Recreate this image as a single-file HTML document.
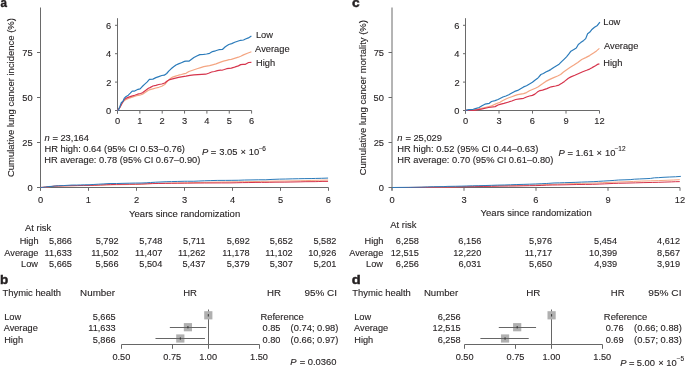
<!DOCTYPE html>
<html><head><meta charset="utf-8"><style>
html,body{margin:0;padding:0;background:#fff;}
body{width:685px;height:366px;overflow:hidden;}
svg{display:block;font-family:"Liberation Sans",sans-serif;will-change:transform;}
text{stroke:#231f20;stroke-width:0.12px;paint-order:stroke;}
</style></head><body>
<svg width="685" height="366" viewBox="0 0 685 366">
<rect width="685" height="366" fill="#fff"/>
<text x="0.55" y="7.20" font-size="12.00" textLength="6.45" lengthAdjust="spacingAndGlyphs" font-weight="bold" style="stroke-width:0.4px" fill="#231f20" >a</text>
<line x1="40.5" y1="7.5" x2="40.5" y2="190.5" stroke="#6a6a6a" stroke-width="1"/>
<line x1="40.5" y1="187.5" x2="328.5" y2="187.5" stroke="#6a6a6a" stroke-width="1"/>
<line x1="37" y1="187.5" x2="40.5" y2="187.5" stroke="#6a6a6a" stroke-width="1"/>
<text x="27.46" y="191.00" font-size="9.30" fill="#231f20" >0</text>
<line x1="37" y1="142.5" x2="40.5" y2="142.5" stroke="#6a6a6a" stroke-width="1"/>
<text x="22.35" y="146.00" font-size="9.30" fill="#231f20" >25</text>
<line x1="37" y1="97.5" x2="40.5" y2="97.5" stroke="#6a6a6a" stroke-width="1"/>
<text x="22.30" y="101.00" font-size="9.30" fill="#231f20" >50</text>
<line x1="37" y1="52.5" x2="40.5" y2="52.5" stroke="#6a6a6a" stroke-width="1"/>
<text x="22.35" y="56.00" font-size="9.30" fill="#231f20" >75</text>
<line x1="40.5" y1="187.5" x2="40.5" y2="190.8" stroke="#6a6a6a" stroke-width="1"/>
<text x="37.90" y="203.00" font-size="9.30" fill="#231f20" >0</text>
<line x1="88.5" y1="187.5" x2="88.5" y2="190.8" stroke="#6a6a6a" stroke-width="1"/>
<text x="85.78" y="203.00" font-size="9.30" fill="#231f20" >1</text>
<line x1="136.5" y1="187.5" x2="136.5" y2="190.8" stroke="#6a6a6a" stroke-width="1"/>
<text x="133.92" y="203.00" font-size="9.30" fill="#231f20" >2</text>
<line x1="184.5" y1="187.5" x2="184.5" y2="190.8" stroke="#6a6a6a" stroke-width="1"/>
<text x="181.92" y="203.00" font-size="9.30" fill="#231f20" >3</text>
<line x1="232.5" y1="187.5" x2="232.5" y2="190.8" stroke="#6a6a6a" stroke-width="1"/>
<text x="229.97" y="203.00" font-size="9.30" fill="#231f20" >4</text>
<line x1="280.5" y1="187.5" x2="280.5" y2="190.8" stroke="#6a6a6a" stroke-width="1"/>
<text x="277.92" y="203.00" font-size="9.30" fill="#231f20" >5</text>
<line x1="328.5" y1="187.5" x2="328.5" y2="190.8" stroke="#6a6a6a" stroke-width="1"/>
<text x="325.87" y="203.00" font-size="9.30" fill="#231f20" >6</text>
<text x="129.11" y="216.60" font-size="9.51" fill="#231f20" >Years since randomization</text>
<line x1="117.5" y1="18.2" x2="117.5" y2="113.6" stroke="#6a6a6a" stroke-width="1"/>
<line x1="117.5" y1="110.5" x2="251.6" y2="110.5" stroke="#6a6a6a" stroke-width="1"/>
<line x1="115" y1="110.5" x2="117.5" y2="110.5" stroke="#6a6a6a" stroke-width="1"/>
<text x="106.06" y="114.00" font-size="9.30" fill="#231f20" >0</text>
<line x1="115" y1="82.1" x2="117.5" y2="82.1" stroke="#6a6a6a" stroke-width="1"/>
<text x="106.20" y="85.60" font-size="9.30" fill="#231f20" >2</text>
<line x1="115" y1="53.7" x2="117.5" y2="53.7" stroke="#6a6a6a" stroke-width="1"/>
<text x="106.02" y="57.20" font-size="9.30" fill="#231f20" >4</text>
<line x1="115" y1="25.30000000000001" x2="117.5" y2="25.30000000000001" stroke="#6a6a6a" stroke-width="1"/>
<text x="106.11" y="28.80" font-size="9.30" fill="#231f20" >6</text>
<line x1="117.5" y1="110.5" x2="117.5" y2="113.6" stroke="#6a6a6a" stroke-width="1"/>
<text x="114.90" y="124.00" font-size="9.30" fill="#231f20" >0</text>
<line x1="139.85" y1="110.5" x2="139.85" y2="113.6" stroke="#6a6a6a" stroke-width="1"/>
<text x="137.13" y="124.00" font-size="9.30" fill="#231f20" >1</text>
<line x1="162.2" y1="110.5" x2="162.2" y2="113.6" stroke="#6a6a6a" stroke-width="1"/>
<text x="159.62" y="124.00" font-size="9.30" fill="#231f20" >2</text>
<line x1="184.55" y1="110.5" x2="184.55" y2="113.6" stroke="#6a6a6a" stroke-width="1"/>
<text x="181.97" y="124.00" font-size="9.30" fill="#231f20" >3</text>
<line x1="206.9" y1="110.5" x2="206.9" y2="113.6" stroke="#6a6a6a" stroke-width="1"/>
<text x="204.37" y="124.00" font-size="9.30" fill="#231f20" >4</text>
<line x1="229.25" y1="110.5" x2="229.25" y2="113.6" stroke="#6a6a6a" stroke-width="1"/>
<text x="226.67" y="124.00" font-size="9.30" fill="#231f20" >5</text>
<line x1="251.60000000000002" y1="110.5" x2="251.60000000000002" y2="113.6" stroke="#6a6a6a" stroke-width="1"/>
<text x="248.97" y="124.00" font-size="9.30" fill="#231f20" >6</text>
<polyline points="117.50,110.40 119.00,108.50 120.90,105.50 122.90,102.00 124.80,100.10 127.80,98.80 130.70,97.60 133.70,96.60 136.60,95.70 139.60,95.20 142.50,94.20 145.50,92.20 148.40,90.30 150.00,89.60 152.90,88.80 155.90,88.00 158.80,87.30 161.80,86.30 164.70,84.50 167.20,81.70 169.70,79.10 172.60,77.10 175.60,76.10 178.50,75.20 181.40,74.50 184.40,73.70 186.00,73.30 188.90,71.50 191.90,70.50 194.80,69.50 197.80,68.50 200.70,67.60 203.70,66.60 206.60,66.10 209.60,65.60 212.50,64.80 216.00,63.90 219.90,62.40 222.00,61.60 224.30,60.90 226.70,60.30 229.00,59.70 231.30,59.30 233.70,58.60 236.00,57.90 238.40,57.20 240.70,56.20 243.50,54.90 247.40,53.30 251.40,51.80" fill="none" stroke="#f4a582" stroke-width="1.2" stroke-linejoin="round" stroke-linecap="butt"/>
<polyline points="40.50,187.49 43.72,187.25 47.80,186.87 52.10,186.42 56.18,186.18 62.62,186.02 68.85,185.86 75.29,185.74 81.52,185.62 87.96,185.56 94.19,185.43 100.63,185.18 106.86,184.94 110.30,184.85 116.53,184.75 122.97,184.65 129.20,184.56 135.64,184.43 141.87,184.20 147.24,183.85 152.61,183.52 158.84,183.27 165.28,183.14 171.51,183.03 177.73,182.94 184.18,182.84 187.61,182.78 193.84,182.56 200.29,182.43 206.51,182.30 212.96,182.18 219.18,182.06 225.63,181.94 231.86,181.87 238.30,181.81 244.53,181.71 252.04,181.59 260.42,181.40 264.93,181.30 269.87,181.21 275.02,181.14 279.96,181.06 284.90,181.01 290.06,180.92 295.00,180.83 300.15,180.74 305.09,180.62 311.10,180.45 319.48,180.25 328.07,180.06" fill="none" stroke="#f4a582" stroke-width="1.0" stroke-linejoin="round" stroke-linecap="butt"/>
<polyline points="117.50,110.40 118.80,108.80 119.90,107.40 121.90,103.50 123.90,100.10 125.80,98.40 128.80,97.10 131.70,96.10 134.70,95.20 137.60,94.20 140.60,93.50 142.50,92.70 145.50,90.50 148.40,88.30 150.00,87.60 152.90,86.00 155.90,85.30 158.80,84.50 161.80,84.00 164.70,83.00 167.20,81.10 169.70,79.60 172.60,78.80 175.60,78.10 178.50,77.40 181.40,76.80 184.40,76.30 186.00,76.20 189.90,75.40 193.90,74.90 197.80,74.60 201.70,74.40 205.70,74.20 208.60,73.30 211.60,72.00 214.50,71.50 217.40,70.60 220.40,70.10 222.00,70.25 224.30,69.55 226.70,68.70 229.00,68.40 231.30,68.10 233.70,67.45 236.00,66.65 238.40,65.90 240.70,64.65 243.00,64.40 245.40,64.30 246.80,63.50 248.60,62.50 251.40,62.30" fill="none" stroke="#d6344c" stroke-width="1.2" stroke-linejoin="round" stroke-linecap="butt"/>
<polyline points="40.50,187.49 43.29,187.28 45.65,187.11 49.95,186.61 54.24,186.18 58.33,185.97 64.77,185.80 71.00,185.67 77.44,185.56 83.67,185.43 90.11,185.35 94.19,185.24 100.63,184.96 106.86,184.69 110.30,184.60 116.53,184.39 122.97,184.31 129.20,184.20 135.64,184.14 141.87,184.01 147.24,183.77 152.61,183.58 158.84,183.48 165.28,183.39 171.51,183.30 177.73,183.23 184.18,183.16 187.61,183.15 195.99,183.05 204.58,182.99 212.96,182.95 221.33,182.92 229.92,182.90 236.15,182.78 242.59,182.62 248.82,182.56 255.05,182.44 261.49,182.38 264.93,182.40 269.87,182.31 275.02,182.20 279.96,182.16 284.90,182.13 290.06,182.04 295.00,181.94 300.15,181.85 305.09,181.69 310.03,181.66 315.18,181.64 318.19,181.54 322.06,181.42 328.07,181.39" fill="none" stroke="#d6344c" stroke-width="1.0" stroke-linejoin="round" stroke-linecap="butt"/>
<polyline points="117.50,110.40 118.50,109.90 119.90,106.50 121.40,102.50 122.90,101.40 124.40,98.10 125.80,96.80 128.30,95.20 130.30,93.20 132.20,91.20 134.20,91.20 136.10,90.30 138.10,89.30 140.10,88.80 142.00,86.80 144.50,84.40 147.00,82.10 149.40,79.40 152.90,79.10 155.90,77.60 158.80,76.60 161.80,75.50 164.30,75.20 166.70,73.50 168.70,71.20 171.10,68.80 173.60,66.80 176.00,65.00 178.50,63.90 181.40,62.70 184.40,61.40 186.00,61.20 188.90,61.20 190.90,59.70 193.90,57.50 196.80,56.00 199.80,54.60 203.70,54.30 206.60,54.00 209.60,53.30 212.50,51.60 215.50,50.80 218.90,49.70 222.40,49.50 225.30,46.70 228.80,44.50 231.70,43.60 234.70,42.30 237.60,41.30 240.60,40.30 243.50,40.00 245.50,39.00 248.40,37.90 251.40,36.10" fill="none" stroke="#2b7bba" stroke-width="1.2" stroke-linejoin="round" stroke-linecap="butt"/>
<polyline points="40.50,187.49 42.65,187.42 45.65,186.99 48.88,186.49 52.10,186.35 55.32,185.93 58.33,185.76 63.69,185.56 67.99,185.31 72.07,185.05 76.37,185.05 80.45,184.94 84.74,184.81 89.04,184.75 93.12,184.50 98.49,184.19 103.86,183.90 109.01,183.56 116.53,183.52 122.97,183.33 129.20,183.20 135.64,183.06 141.01,183.03 146.16,182.81 150.46,182.52 155.61,182.21 160.98,181.96 166.14,181.73 171.51,181.59 177.73,181.44 184.18,181.28 187.61,181.25 193.84,181.25 198.14,181.06 204.58,180.78 210.81,180.59 217.25,180.41 225.63,180.38 231.86,180.34 238.30,180.25 244.53,180.03 250.97,179.93 258.27,179.79 265.79,179.77 272.02,179.41 279.53,179.13 285.76,179.02 292.20,178.85 298.43,178.73 304.88,178.60 311.10,178.56 315.40,178.44 321.63,178.30 328.07,178.07" fill="none" stroke="#2b7bba" stroke-width="1.0" stroke-linejoin="round" stroke-linecap="butt"/>
<text x="255.96" y="37.90" font-size="9.30" fill="#231f20" >Low</text>
<text x="255.10" y="52.00" font-size="9.30" fill="#231f20" >Average</text>
<text x="255.96" y="65.80" font-size="9.30" fill="#231f20" >High</text>
<text x="44.46" y="140.80" font-size="9.40" font-style="italic" fill="#231f20" >n</text>
<text x="52.50" y="140.80" font-size="9.40" fill="#231f20" >=</text>
<text x="60.43" y="140.80" font-size="9.40" textLength="28.53" lengthAdjust="spacingAndGlyphs" fill="#231f20" >23,164</text>
<text x="44.45" y="152.40" font-size="9.34" fill="#231f20" >HR high: 0.64 (95% CI 0.53–0.76)</text>
<text x="44.26" y="163.00" font-size="9.31" fill="#231f20" >HR average: 0.78 (95% CI 0.67–0.90)</text>
<text x="201.92" y="154.70" font-size="9.40" font-style="italic" fill="#231f20" >P</text>
<text x="210.75" y="154.70" font-size="9.40" fill="#231f20" >=</text>
<text x="219.21" y="154.70" font-size="9.40" fill="#231f20" >3.05</text>
<text x="240.55" y="154.70" font-size="9.40" fill="#231f20" >×</text>
<text x="248.84" y="154.70" font-size="9.40" fill="#231f20" >10</text>
<text x="258.90" y="150.80" font-size="6.50" fill="#231f20" >−</text>
<text x="262.21" y="150.80" font-size="6.50" fill="#231f20" >6</text>
<text x="25.10" y="230.70" font-size="9.40" fill="#231f20" >At risk</text>
<text x="19.69" y="244.20" font-size="9.20" fill="#231f20" >High</text>
<text x="4.33" y="255.50" font-size="9.20" fill="#231f20" >Average</text>
<text x="21.12" y="267.20" font-size="9.20" fill="#231f20" >Low</text>
<text x="48.97" y="244.20" font-size="9.20" fill="#231f20" >5,866</text>
<text x="95.66" y="244.20" font-size="9.20" fill="#231f20" >5,792</text>
<text x="139.37" y="244.20" font-size="9.20" fill="#231f20" >5,748</text>
<text x="183.10" y="244.20" font-size="9.20" fill="#231f20" >5,711</text>
<text x="226.76" y="244.20" font-size="9.20" fill="#231f20" >5,692</text>
<text x="269.76" y="244.20" font-size="9.20" fill="#231f20" >5,652</text>
<text x="313.46" y="244.20" font-size="9.20" fill="#231f20" >5,582</text>
<text x="44.51" y="255.50" font-size="9.20" fill="#231f20" >11,633</text>
<text x="91.20" y="255.50" font-size="9.20" fill="#231f20" >11,502</text>
<text x="135.00" y="255.50" font-size="9.20" fill="#231f20" >11,407</text>
<text x="178.00" y="255.50" font-size="9.20" fill="#231f20" >11,262</text>
<text x="222.21" y="255.50" font-size="9.20" fill="#231f20" >11,178</text>
<text x="265.30" y="255.50" font-size="9.20" fill="#231f20" >11,102</text>
<text x="308.22" y="255.50" font-size="9.20" fill="#231f20" >10,926</text>
<text x="48.97" y="267.20" font-size="9.20" fill="#231f20" >5,665</text>
<text x="95.57" y="267.20" font-size="9.20" fill="#231f20" >5,566</text>
<text x="139.28" y="267.20" font-size="9.20" fill="#231f20" >5,504</text>
<text x="182.46" y="267.20" font-size="9.20" fill="#231f20" >5,437</text>
<text x="226.71" y="267.20" font-size="9.20" fill="#231f20" >5,379</text>
<text x="269.76" y="267.20" font-size="9.20" fill="#231f20" >5,307</text>
<text x="313.41" y="267.20" font-size="9.20" fill="#231f20" >5,201</text>
<text x="352.05" y="7.20" font-size="12.00" textLength="7.68" lengthAdjust="spacingAndGlyphs" font-weight="bold" style="stroke-width:0.4px" fill="#231f20" >c</text>
<line x1="392" y1="7.5" x2="392" y2="190.5" stroke="#6a6a6a" stroke-width="1"/>
<line x1="392" y1="187.5" x2="680" y2="187.5" stroke="#6a6a6a" stroke-width="1"/>
<line x1="388.5" y1="187.5" x2="392" y2="187.5" stroke="#6a6a6a" stroke-width="1"/>
<text x="378.76" y="191.00" font-size="9.30" fill="#231f20" >0</text>
<line x1="388.5" y1="142.5" x2="392" y2="142.5" stroke="#6a6a6a" stroke-width="1"/>
<text x="373.65" y="146.00" font-size="9.30" fill="#231f20" >25</text>
<line x1="388.5" y1="97.5" x2="392" y2="97.5" stroke="#6a6a6a" stroke-width="1"/>
<text x="373.60" y="101.00" font-size="9.30" fill="#231f20" >50</text>
<line x1="388.5" y1="52.5" x2="392" y2="52.5" stroke="#6a6a6a" stroke-width="1"/>
<text x="373.65" y="56.00" font-size="9.30" fill="#231f20" >75</text>
<line x1="392" y1="187.5" x2="392" y2="190.8" stroke="#6a6a6a" stroke-width="1"/>
<text x="389.40" y="203.00" font-size="9.30" fill="#231f20" >0</text>
<line x1="464" y1="187.5" x2="464" y2="190.8" stroke="#6a6a6a" stroke-width="1"/>
<text x="461.42" y="203.00" font-size="9.30" fill="#231f20" >3</text>
<line x1="536" y1="187.5" x2="536" y2="190.8" stroke="#6a6a6a" stroke-width="1"/>
<text x="533.37" y="203.00" font-size="9.30" fill="#231f20" >6</text>
<line x1="608" y1="187.5" x2="608" y2="190.8" stroke="#6a6a6a" stroke-width="1"/>
<text x="605.42" y="203.00" font-size="9.30" fill="#231f20" >9</text>
<line x1="680" y1="187.5" x2="680" y2="190.8" stroke="#6a6a6a" stroke-width="1"/>
<text x="674.72" y="203.00" font-size="9.30" fill="#231f20" >12</text>
<text x="480.61" y="216.30" font-size="9.51" fill="#231f20" >Years since randomization</text>
<line x1="465.5" y1="18.2" x2="465.5" y2="113.6" stroke="#6a6a6a" stroke-width="1"/>
<line x1="465.5" y1="110.5" x2="599.5" y2="110.5" stroke="#6a6a6a" stroke-width="1"/>
<line x1="463" y1="110.5" x2="465.5" y2="110.5" stroke="#6a6a6a" stroke-width="1"/>
<text x="454.26" y="114.00" font-size="9.30" fill="#231f20" >0</text>
<line x1="463" y1="82.1" x2="465.5" y2="82.1" stroke="#6a6a6a" stroke-width="1"/>
<text x="454.40" y="85.60" font-size="9.30" fill="#231f20" >2</text>
<line x1="463" y1="53.7" x2="465.5" y2="53.7" stroke="#6a6a6a" stroke-width="1"/>
<text x="454.22" y="57.20" font-size="9.30" fill="#231f20" >4</text>
<line x1="463" y1="25.30000000000001" x2="465.5" y2="25.30000000000001" stroke="#6a6a6a" stroke-width="1"/>
<text x="454.31" y="28.80" font-size="9.30" fill="#231f20" >6</text>
<line x1="465.5" y1="110.5" x2="465.5" y2="113.6" stroke="#6a6a6a" stroke-width="1"/>
<text x="462.90" y="124.00" font-size="9.30" fill="#231f20" >0</text>
<line x1="499.0" y1="110.5" x2="499.0" y2="113.6" stroke="#6a6a6a" stroke-width="1"/>
<text x="496.42" y="124.00" font-size="9.30" fill="#231f20" >3</text>
<line x1="532.5" y1="110.5" x2="532.5" y2="113.6" stroke="#6a6a6a" stroke-width="1"/>
<text x="529.87" y="124.00" font-size="9.30" fill="#231f20" >6</text>
<line x1="566.0" y1="110.5" x2="566.0" y2="113.6" stroke="#6a6a6a" stroke-width="1"/>
<text x="563.42" y="124.00" font-size="9.30" fill="#231f20" >9</text>
<line x1="599.5" y1="110.5" x2="599.5" y2="113.6" stroke="#6a6a6a" stroke-width="1"/>
<text x="594.22" y="124.00" font-size="9.30" fill="#231f20" >12</text>
<polyline points="465.50,110.30 470.30,110.30 477.60,109.10 484.90,107.50 490.70,106.20 495.80,103.90 500.00,102.20 502.90,100.50 505.90,99.00 508.80,97.80 511.80,96.70 514.70,95.60 517.70,94.60 520.60,94.10 523.60,93.60 526.50,92.60 529.50,90.80 532.40,89.50 535.40,88.20 538.30,86.70 540.00,85.50 542.50,83.80 545.80,81.40 549.80,79.40 553.70,77.60 557.60,76.00 560.60,74.50 563.50,72.00 566.00,70.30 569.90,67.60 573.90,65.10 577.80,62.50 581.70,59.50 585.70,57.60 589.60,55.60 593.50,53.00 596.50,50.90 599.40,48.40" fill="none" stroke="#f4a582" stroke-width="1.2" stroke-linejoin="round" stroke-linecap="butt"/>
<polyline points="392.00,187.50 402.32,187.50 418.01,187.35 433.69,187.15 446.16,186.98 457.12,186.69 466.15,186.48 472.38,186.26 478.83,186.07 485.06,185.92 491.51,185.78 497.74,185.64 504.19,185.52 510.42,185.45 516.87,185.39 523.10,185.26 529.55,185.04 535.78,184.87 542.23,184.71 548.46,184.52 552.11,184.37 557.49,184.15 564.58,183.85 573.18,183.60 581.56,183.37 589.94,183.17 596.39,182.98 602.62,182.66 607.99,182.45 616.38,182.11 624.97,181.79 633.35,181.46 641.74,181.08 650.33,180.84 658.71,180.59 667.10,180.26 673.54,180.00 679.78,179.68" fill="none" stroke="#f4a582" stroke-width="1.0" stroke-linejoin="round" stroke-linecap="butt"/>
<polyline points="465.50,110.30 474.00,110.30 481.20,109.10 488.50,107.50 495.10,106.60 498.00,105.00 500.00,104.40 503.90,103.40 507.90,102.20 511.80,101.00 515.70,99.50 519.70,98.80 523.60,98.30 526.50,97.00 529.50,96.00 532.40,95.40 534.90,94.10 537.30,92.10 540.00,90.60 542.50,90.10 546.90,88.60 551.20,86.80 555.60,86.00 558.90,85.10 562.20,83.00 564.50,81.40 568.40,78.20 570.90,76.90 574.80,75.30 578.80,73.50 582.70,71.70 586.60,70.30 589.60,69.10 592.50,67.40 595.50,65.80 597.40,64.40 599.40,63.90" fill="none" stroke="#d6344c" stroke-width="1.2" stroke-linejoin="round" stroke-linecap="butt"/>
<polyline points="392.00,187.50 410.27,187.50 425.74,187.35 441.43,187.15 455.62,187.03 461.85,186.83 466.15,186.75 474.53,186.63 483.13,186.48 491.51,186.33 499.89,186.14 508.49,186.05 516.87,185.98 523.10,185.82 529.55,185.69 535.78,185.62 541.15,185.45 546.31,185.20 552.11,185.01 557.49,184.95 566.94,184.76 576.19,184.53 585.64,184.43 592.73,184.32 599.83,184.05 604.77,183.85 613.15,183.45 618.52,183.28 626.91,183.08 635.50,182.85 643.89,182.62 652.27,182.45 658.71,182.30 664.95,182.08 671.39,181.88 675.48,181.70 679.78,181.64" fill="none" stroke="#d6344c" stroke-width="1.0" stroke-linejoin="round" stroke-linecap="butt"/>
<polyline points="465.50,110.30 465.90,110.30 468.80,109.60 473.20,109.30 475.40,108.60 479.10,107.50 482.00,105.70 484.90,104.20 489.30,103.30 491.50,101.50 495.10,100.60 498.00,99.50 500.00,98.50 502.90,97.00 505.90,96.00 508.80,94.80 511.80,93.10 514.70,91.40 517.70,90.40 520.60,88.70 523.60,86.90 526.50,85.70 529.50,84.00 532.40,82.30 534.90,80.30 537.30,78.60 538.50,77.40 540.90,74.50 543.40,73.50 545.80,72.00 548.80,70.60 550.70,69.60 553.70,67.40 556.60,65.70 559.10,64.20 561.60,61.70 564.00,59.30 566.50,56.80 568.90,53.90 570.90,51.20 573.90,49.40 576.30,48.00 578.30,44.50 580.70,42.60 583.70,40.40 585.70,38.60 587.60,33.70 589.60,32.30 591.60,29.80 594.50,27.30 597.40,25.40 599.90,22.10" fill="none" stroke="#2b7bba" stroke-width="1.2" stroke-linejoin="round" stroke-linecap="butt"/>
<polyline points="392.00,187.50 392.86,187.50 399.09,187.41 408.55,187.37 413.28,187.29 421.23,187.15 427.46,186.92 433.69,186.73 443.15,186.62 447.88,186.39 455.62,186.27 461.85,186.14 466.15,186.01 472.38,185.82 478.83,185.69 485.06,185.54 491.51,185.33 497.74,185.11 504.19,184.99 510.42,184.77 516.87,184.54 523.10,184.39 529.55,184.18 535.78,183.96 541.15,183.71 546.31,183.50 548.89,183.34 554.05,182.98 559.42,182.85 564.58,182.66 571.03,182.49 575.11,182.36 581.56,182.08 587.79,181.87 593.16,181.68 598.54,181.36 603.70,181.06 609.07,180.74 614.23,180.38 618.52,180.03 624.97,179.81 630.13,179.63 634.43,179.19 639.59,178.95 646.03,178.67 650.33,178.44 654.42,177.82 658.71,177.65 663.01,177.33 669.25,177.02 675.48,176.78 680.85,176.36" fill="none" stroke="#2b7bba" stroke-width="1.0" stroke-linejoin="round" stroke-linecap="butt"/>
<text x="603.26" y="25.10" font-size="9.30" fill="#231f20" >Low</text>
<text x="604.00" y="49.40" font-size="9.30" fill="#231f20" >Average</text>
<text x="603.26" y="66.20" font-size="9.30" fill="#231f20" >High</text>
<text x="397.26" y="140.80" font-size="9.40" font-style="italic" fill="#231f20" >n</text>
<text x="405.50" y="140.80" font-size="9.40" fill="#231f20" >=</text>
<text x="413.43" y="140.80" font-size="9.40" textLength="28.57" lengthAdjust="spacingAndGlyphs" fill="#231f20" >25,029</text>
<text x="397.25" y="152.40" font-size="9.37" fill="#231f20" >HR high: 0.52 (95% CI 0.44–0.63)</text>
<text x="397.26" y="163.00" font-size="9.31" fill="#231f20" >HR average: 0.70 (95% CI 0.61–0.80)</text>
<text x="558.52" y="155.70" font-size="9.40" font-style="italic" fill="#231f20" >P</text>
<text x="567.55" y="155.70" font-size="9.40" fill="#231f20" >=</text>
<text x="575.52" y="155.70" font-size="9.40" fill="#231f20" >1.61</text>
<text x="596.55" y="155.70" font-size="9.40" fill="#231f20" >×</text>
<text x="604.95" y="155.70" font-size="9.40" fill="#231f20" >10</text>
<text x="614.70" y="151.20" font-size="6.50" fill="#231f20" >−</text>
<text x="618.36" y="151.20" font-size="6.50" fill="#231f20" >12</text>
<text x="390.30" y="228.40" font-size="9.40" fill="#231f20" >At risk</text>
<text x="364.59" y="243.90" font-size="9.20" fill="#231f20" >High</text>
<text x="349.23" y="255.60" font-size="9.20" fill="#231f20" >Average</text>
<text x="366.02" y="267.00" font-size="9.20" fill="#231f20" >Low</text>
<text x="395.87" y="243.90" font-size="9.20" fill="#231f20" >6,258</text>
<text x="458.37" y="243.90" font-size="9.20" fill="#231f20" >6,156</text>
<text x="529.07" y="243.90" font-size="9.20" fill="#231f20" >5,976</text>
<text x="594.08" y="243.90" font-size="9.20" fill="#231f20" >5,454</text>
<text x="657.06" y="243.90" font-size="9.20" fill="#231f20" >4,612</text>
<text x="390.72" y="255.60" font-size="9.20" fill="#231f20" >12,515</text>
<text x="453.17" y="255.60" font-size="9.20" fill="#231f20" >12,220</text>
<text x="524.70" y="255.60" font-size="9.20" fill="#231f20" >11,717</text>
<text x="589.06" y="255.60" font-size="9.20" fill="#231f20" >10,399</text>
<text x="657.06" y="255.60" font-size="9.20" fill="#231f20" >8,567</text>
<text x="395.87" y="267.00" font-size="9.20" fill="#231f20" >6,256</text>
<text x="458.41" y="267.00" font-size="9.20" fill="#231f20" >6,031</text>
<text x="529.02" y="267.00" font-size="9.20" fill="#231f20" >5,650</text>
<text x="594.21" y="267.00" font-size="9.20" fill="#231f20" >4,939</text>
<text x="657.01" y="267.00" font-size="9.20" fill="#231f20" >3,919</text>
<text x="0.02" y="283.80" font-size="12.00" textLength="8.23" lengthAdjust="spacingAndGlyphs" font-weight="bold" style="stroke-width:0.4px" fill="#231f20" >b</text>
<text x="2.51" y="296.20" font-size="9.45" textLength="58.50" lengthAdjust="spacingAndGlyphs" fill="#231f20" >Thymic health</text>
<text x="80.12" y="296.20" font-size="9.45" textLength="34.85" lengthAdjust="spacingAndGlyphs" fill="#231f20" >Number</text>
<text x="183.24" y="296.20" font-size="9.45" textLength="13.73" lengthAdjust="spacingAndGlyphs" fill="#231f20" >HR</text>
<text x="267.03" y="296.20" font-size="9.45" textLength="13.95" lengthAdjust="spacingAndGlyphs" fill="#231f20" >HR</text>
<text x="304.55" y="296.20" font-size="9.45" textLength="32.48" lengthAdjust="spacingAndGlyphs" fill="#231f20" >95% CI</text>
<text x="4.16" y="319.50" font-size="9.20" fill="#231f20" >Low</text>
<text x="92.67" y="319.50" font-size="9.20" fill="#231f20" >5,665</text>
<text x="3.70" y="331.00" font-size="9.20" fill="#231f20" >Average</text>
<text x="88.21" y="331.00" font-size="9.20" fill="#231f20" >11,633</text>
<text x="4.16" y="342.50" font-size="9.20" fill="#231f20" >High</text>
<text x="92.67" y="342.50" font-size="9.20" fill="#231f20" >5,866</text>
<line x1="121.5" y1="344.5" x2="259.5" y2="344.5" stroke="#666666" stroke-width="1"/>
<line x1="121.5" y1="344.5" x2="121.5" y2="348.8" stroke="#666666" stroke-width="1"/>
<text x="112.39" y="360.00" font-size="9.20" fill="#231f20" >0.50</text>
<line x1="172.5" y1="344.5" x2="172.5" y2="348.8" stroke="#666666" stroke-width="1"/>
<text x="163.27" y="360.00" font-size="9.20" fill="#231f20" >0.75</text>
<line x1="208.5" y1="344.5" x2="208.5" y2="348.8" stroke="#666666" stroke-width="1"/>
<text x="199.17" y="360.00" font-size="9.20" fill="#231f20" >1.00</text>
<line x1="259.5" y1="344.5" x2="259.5" y2="348.8" stroke="#666666" stroke-width="1"/>
<text x="250.03" y="360.00" font-size="9.20" fill="#231f20" >1.50</text>
<line x1="208.5" y1="309.5" x2="208.5" y2="344.5" stroke="#666666" stroke-width="1"/>
<rect x="204.20" y="311.20" width="8.2" height="8.2" fill="#b0b0b0"/>
<rect x="207.80" y="314.10" width="1" height="2.4" fill="#333"/>
<text x="260.45" y="319.50" font-size="9.30" textLength="43.36" lengthAdjust="spacingAndGlyphs" fill="#231f20" >Reference</text>
<rect x="183.82" y="323.10" width="8.2" height="8.2" fill="#b0b0b0"/>
<line x1="169.83238821211273" y1="327.5" x2="206.26597442116355" y2="327.5" stroke="#666666" stroke-width="1"/>
<rect x="187.42" y="326.00" width="1" height="2.4" fill="#333"/>
<text x="262.53" y="331.00" font-size="9.20" fill="#231f20" >0.85</text>
<text x="290.64" y="331.00" font-size="9.25" textLength="47.76" lengthAdjust="spacingAndGlyphs" fill="#231f20" >(0.74; 0.98)</text>
<rect x="176.21" y="334.40" width="8.2" height="8.2" fill="#b0b0b0"/>
<line x1="155.48189786388826" y1="338.5" x2="204.979501605193" y2="338.5" stroke="#666666" stroke-width="1"/>
<rect x="179.81" y="337.30" width="1" height="2.4" fill="#333"/>
<text x="262.53" y="342.50" font-size="9.20" fill="#231f20" >0.80</text>
<text x="290.64" y="342.50" font-size="9.25" textLength="47.76" lengthAdjust="spacingAndGlyphs" fill="#231f20" >(0.66; 0.97)</text>
<text x="290.32" y="364.90" font-size="9.40" font-style="italic" fill="#231f20" >P</text>
<text x="299.75" y="364.90" font-size="9.40" fill="#231f20" >=</text>
<text x="307.74" y="364.90" font-size="9.40" fill="#231f20" >0.0360</text>
<text x="351.81" y="283.80" font-size="12.00" textLength="8.95" lengthAdjust="spacingAndGlyphs" font-weight="bold" style="stroke-width:0.4px" fill="#231f20" >d</text>
<text x="352.31" y="296.20" font-size="9.45" textLength="58.50" lengthAdjust="spacingAndGlyphs" fill="#231f20" >Thymic health</text>
<text x="423.93" y="296.20" font-size="9.45" textLength="34.23" lengthAdjust="spacingAndGlyphs" fill="#231f20" >Number</text>
<text x="526.22" y="296.20" font-size="9.45" textLength="14.17" lengthAdjust="spacingAndGlyphs" fill="#231f20" >HR</text>
<text x="610.84" y="296.20" font-size="9.45" textLength="13.73" lengthAdjust="spacingAndGlyphs" fill="#231f20" >HR</text>
<text x="648.35" y="296.20" font-size="9.45" textLength="33.11" lengthAdjust="spacingAndGlyphs" fill="#231f20" >95% CI</text>
<text x="354.26" y="319.50" font-size="9.20" fill="#231f20" >Low</text>
<text x="437.67" y="319.50" font-size="9.20" fill="#231f20" >6,256</text>
<text x="354.10" y="331.00" font-size="9.20" fill="#231f20" >Average</text>
<text x="432.52" y="331.00" font-size="9.20" fill="#231f20" >12,515</text>
<text x="354.26" y="342.50" font-size="9.20" fill="#231f20" >High</text>
<text x="437.67" y="342.50" font-size="9.20" fill="#231f20" >6,258</text>
<line x1="464.5" y1="344.5" x2="602.5" y2="344.5" stroke="#666666" stroke-width="1"/>
<line x1="464.5" y1="344.5" x2="464.5" y2="348.8" stroke="#666666" stroke-width="1"/>
<text x="455.69" y="360.00" font-size="9.20" fill="#231f20" >0.50</text>
<line x1="515.5" y1="344.5" x2="515.5" y2="348.8" stroke="#666666" stroke-width="1"/>
<text x="506.57" y="360.00" font-size="9.20" fill="#231f20" >0.75</text>
<line x1="551.5" y1="344.5" x2="551.5" y2="348.8" stroke="#666666" stroke-width="1"/>
<text x="542.47" y="360.00" font-size="9.20" fill="#231f20" >1.00</text>
<line x1="602.5" y1="344.5" x2="602.5" y2="348.8" stroke="#666666" stroke-width="1"/>
<text x="593.33" y="360.00" font-size="9.20" fill="#231f20" >1.50</text>
<line x1="551.5" y1="309.5" x2="551.5" y2="344.5" stroke="#666666" stroke-width="1"/>
<rect x="547.50" y="311.20" width="8.2" height="8.2" fill="#b0b0b0"/>
<rect x="551.10" y="314.10" width="1" height="2.4" fill="#333"/>
<text x="603.85" y="319.50" font-size="9.30" textLength="43.36" lengthAdjust="spacingAndGlyphs" fill="#231f20" >Reference</text>
<rect x="513.08" y="323.10" width="8.2" height="8.2" fill="#b0b0b0"/>
<line x1="498.7818978638883" y1="327.5" x2="536.0658602115152" y2="327.5" stroke="#666666" stroke-width="1"/>
<rect x="516.68" y="326.00" width="1" height="2.4" fill="#333"/>
<text x="605.63" y="331.00" font-size="9.20" fill="#231f20" >0.76</text>
<text x="634.14" y="331.00" font-size="9.25" textLength="47.76" lengthAdjust="spacingAndGlyphs" fill="#231f20" >(0.66; 0.88)</text>
<rect x="500.96" y="334.40" width="8.2" height="8.2" fill="#b0b0b0"/>
<line x1="480.39342409600135" y1="338.5" x2="528.728681007441" y2="338.5" stroke="#666666" stroke-width="1"/>
<rect x="504.56" y="337.30" width="1" height="2.4" fill="#333"/>
<text x="605.63" y="342.50" font-size="9.20" fill="#231f20" >0.69</text>
<text x="634.14" y="342.50" font-size="9.25" textLength="47.76" lengthAdjust="spacingAndGlyphs" fill="#231f20" >(0.57; 0.83)</text>
<text x="620.32" y="366.00" font-size="9.40" font-style="italic" fill="#231f20" >P</text>
<text x="629.10" y="366.00" font-size="9.40" fill="#231f20" >=</text>
<text x="636.79" y="366.00" font-size="9.40" fill="#231f20" >5.00</text>
<text x="658.20" y="366.00" font-size="9.40" fill="#231f20" >×</text>
<text x="666.20" y="366.00" font-size="9.40" fill="#231f20" >10</text>
<text x="676.65" y="361.00" font-size="6.50" fill="#231f20" >−</text>
<text x="680.40" y="361.00" font-size="6.50" fill="#231f20" >5</text>
<g transform="translate(14.30,97.55) rotate(-90)"><text x="-79.52" y="0" font-size="9.48" fill="#231f20">Cumulative lung cancer incidence (%)</text></g>
<g transform="translate(365.70,97.65) rotate(-90)"><text x="-77.63" y="0" font-size="9.51" fill="#231f20">Cumulative lung cancer mortality (%)</text></g>
</svg>
</body></html>
